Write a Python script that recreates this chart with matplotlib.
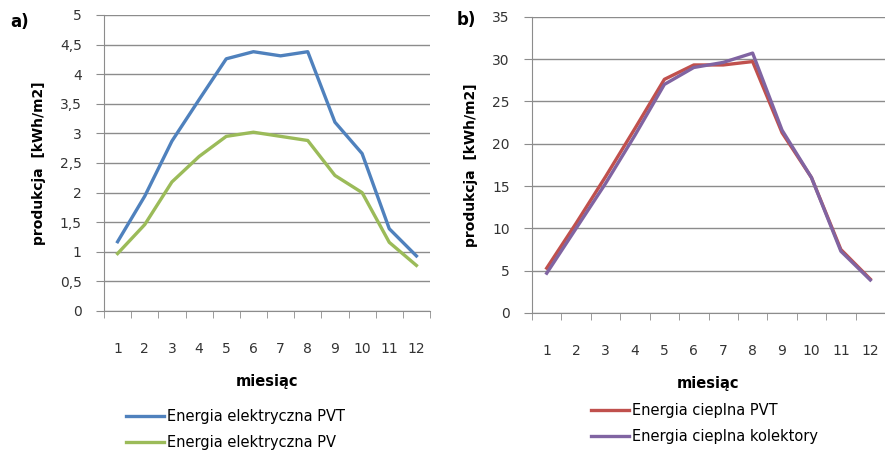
import numpy as np
from matplotlib import pyplot as plt

months = list(range(1, 13))
pvt_el = [1.17, 1.94, 2.87, 3.57, 4.26, 4.38, 4.31, 4.38, 3.19, 2.66, 1.39, 0.93]
pv_el = [0.97, 1.46, 2.18, 2.61, 2.95, 3.02, 2.95, 2.88, 2.29, 2.00, 1.16, 0.77]
pvt_heat = [5.3, 10.6, 16.1, 21.8, 27.6, 29.3, 29.3, 29.7, 21.3, 16.0, 7.5, 4.0]
coll_heat = [4.7, 10.0, 15.3, 21.0, 27.0, 29.0, 29.6, 30.7, 21.6, 16.0, 7.3, 3.9]

left_ticks = [0, 0.5, 1, 1.5, 2, 2.5, 3, 3.5, 4, 4.5, 5]
left_labels = ["0", "0,5", "1", "1,5", "2", "2,5", "3", "3,5", "4", "4,5", "5"]
right_ticks = [0, 5, 10, 15, 20, 25, 30, 35]

W, H = 885, 459
fig = plt.figure(figsize=(W / 100, H / 100), dpi=100)

grid_c = "#8c8c8c"


def px(x0, x1, ytop, ybot):
    return [x0 / W, 1 - ybot / H, (x1 - x0) / W, (ybot - ytop) / H]


def setup(ax, ticks, labels, ymax):
    ax.set_xlim(0.5, 12.5)
    ax.set_ylim(0, ymax)
    ax.set_yticks(ticks)
    ax.set_yticklabels(labels, fontsize=10, color="#333333")
    ax.set_xticks(months)
    ax.set_xticklabels([str(m) for m in months], fontsize=10, color="#333333")
    ax.set_xticks(np.arange(0.5, 13, 1), minor=True)
    ax.tick_params(axis="x", which="major", length=0, pad=22)
    ax.tick_params(axis="x", which="minor", length=5, color=grid_c)
    ax.tick_params(axis="y", length=6, color=grid_c, pad=10)
    for s in ["top", "right"]:
        ax.spines[s].set_visible(False)
    for s in ["left", "bottom"]:
        ax.spines[s].set_color(grid_c)
    ax.grid(axis="y", color=grid_c, linewidth=1)
    ax.set_axisbelow(True)
    ax.set_xlabel("miesiąc", fontsize=10.5, fontweight="bold", labelpad=13)
    ax.set_ylabel("produkcja  [kWh/m2]", fontsize=10, fontweight="bold", labelpad=10)


ax1 = fig.add_axes(px(104, 430, 15, 311))
ax1.plot(months, pvt_el, color="#4F81BD", lw=2.4, label="Energia elektryczna PVT")
ax1.plot(months, pv_el, color="#9BBB59", lw=2.4, label="Energia elektryczna PV")
setup(ax1, left_ticks, left_labels, 5)
ax1.legend(loc="upper left", bbox_to_anchor=(126 / W, 1 - 409 / H), bbox_transform=fig.transFigure,
           frameon=False, fontsize=10.5, handlelength=2.6, handletextpad=0.2, labelspacing=0.75,
           borderpad=0, borderaxespad=0)
fig.text(10 / W, 1 - 22 / H, "a)", fontsize=12, fontweight="bold", va="center")

ax2 = fig.add_axes(px(532, 885, 16.7, 313))
ax2.plot(months, pvt_heat, color="#C0504D", lw=2.4, label="Energia cieplna PVT")
ax2.plot(months, coll_heat, color="#8064A2", lw=2.4, label="Energia cieplna kolektory")
setup(ax2, right_ticks, [str(t) for t in right_ticks], 35)
ax2.legend(loc="upper left", bbox_to_anchor=(591 / W, 1 - 403 / H), bbox_transform=fig.transFigure,
           frameon=False, fontsize=10.5, handlelength=2.6, handletextpad=0.2, labelspacing=0.75,
           borderpad=0, borderaxespad=0)
fig.text(457 / W, 1 - 20 / H, "b)", fontsize=12, fontweight="bold", va="center")

fig.savefig("out.png", dpi=100)
